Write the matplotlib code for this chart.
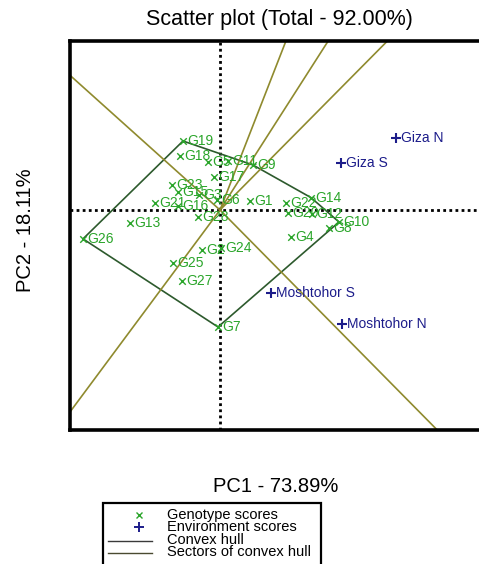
import numpy as np
import matplotlib.pyplot as plt
from matplotlib.patches import Rectangle
from matplotlib.lines import Line2D

plt.rcParams['font.family'] = ['Liberation Sans', 'DejaVu Sans']

# genotype scores (PC1, PC2)
gen_names = ["G1", "G2", "G3", "G4", "G5", "G6", "G7", "G8", "G9", "G10",
             "G11", "G12", "G13", "G14", "G15", "G16", "G17", "G18", "G19", "G20",
             "G21", "G22", "G23", "G24", "G25", "G26", "G27", "G28"]
gen_pc1 = [0.75, -0.45, -0.525, 1.775, -0.3, -0.075, -0.05, 2.725, 0.825, 2.975,
           0.2, 2.3, -2.25, 2.275, -1.05, -1.05, -0.15, -1.0, -0.925, 1.7,
           -1.625, 1.65, -1.2, 0.025, -1.175, -3.425, -0.95, -0.55]
gen_pc2 = [0.24, -1.07, 0.4, -0.72, 1.28, 0.27, -3.12, -0.48, 1.2, -0.32,
           1.31, -0.11, -0.35, 0.33, 0.48, 0.11, 0.88, 1.44, 1.84, -0.08,
           0.19, 0.19, 0.67, -1.01, -1.41, -0.77, -1.89, -0.19]

# environment scores
env_names = ["Giza N", "Giza S", "Moshtohor S", "Moshtohor N"]
env_pc1 = [4.4, 3.025, 1.275, 3.05]
env_pc2 = [1.92, 1.25, -2.21, -3.04]

# genotypes on the convex hull, in order
hull_names = ["G19", "G9", "G14", "G10", "G7", "G26"]

gen_col = "#2aa52a"
env_col = "#1c1c8a"
hull_col = "#2d5a2d"
sect_col = "#8f8a2e"

W, H = 479, 564
fig = plt.figure(figsize=(W / 100, H / 100), dpi=100)
ax = fig.add_axes([70 / W, 1 - 430 / H, 420 / W, 389 / H])
ax.set_xlim(-3.75, 6.75)
ax.set_ylim(-5.867, 4.507)
ax.set_xticks([])
ax.set_yticks([])
for s in ax.spines.values():
    s.set_linewidth(2.6)

# dotted axes through origin
ax.axhline(0, color="k", ls=(0, (1, 1.2)), lw=2, zorder=1)
ax.axvline(0, color="k", ls=(0, (1, 1.2)), lw=2, zorder=1)

# convex hull
idx = [gen_names.index(n) for n in hull_names]
hx = [gen_pc1[i] for i in idx] + [gen_pc1[idx[0]]]
hy = [gen_pc2[i] for i in idx] + [gen_pc2[idx[0]]]
ax.plot(hx, hy, color=hull_col, lw=1.2, zorder=2)

# sector rays: from origin, perpendicular to each hull edge
for k in range(len(idx)):
    a = np.array([hx[k], hy[k]])
    b = np.array([hx[k + 1], hy[k + 1]])
    d = b - a
    foot = a - d * np.dot(a, d) / np.dot(d, d)
    end = foot / np.linalg.norm(foot) * 20
    ax.plot([0, end[0]], [0, end[1]], color=sect_col, lw=1.2, zorder=2)

# genotype markers and labels
ax.scatter(gen_pc1, gen_pc2, marker="x", s=22, color=gen_col, linewidths=1, zorder=3)
for n, x, y in zip(gen_names, gen_pc1, gen_pc2):
    ax.annotate(n, (x, y), xytext=(3, 0), textcoords="offset points",
                va="center", ha="left", fontsize=10, color=gen_col, zorder=4)

# environment markers and labels
ax.scatter(env_pc1, env_pc2, marker="+", s=55, color=env_col, linewidths=1.5, zorder=3)
for n, x, y in zip(env_names, env_pc1, env_pc2):
    ax.annotate(n, (x, y), xytext=(3.5, 0), textcoords="offset points",
                va="center", ha="left", fontsize=10, color=env_col, zorder=4)

fig.text(279 / W, 1 - 20 / H, "Scatter plot (Total - 92.00%)", ha="center", va="center", fontsize=15.5)
fig.text(276 / W, 1 - 487 / H, "PC1 - 73.89%", ha="center", va="center", fontsize=14.5)
fig.text(26 / W, 1 - 230 / H, "PC2 - 18.11%", ha="center", va="center", fontsize=14.5, rotation=90)

# legend box, drawn by hand in pixel positions
def px(x, y):
    return x / W, 1 - y / H

fig.patches.append(Rectangle(px(103, 575), 218 / W, 72 / H, transform=fig.transFigure,
                             fill=False, edgecolor="k", lw=1.6))
leg_labels = ["Genotype scores", "Environment scores", "Convex hull", "Sectors of convex hull"]
rows = [515, 527, 540, 552]
for lab, ry in zip(leg_labels, rows):
    fig.text(*px(167, ry), lab, ha="left", va="center", fontsize=10.5)
fig.lines.append(Line2D([139 / W], [1 - rows[0] / H], marker="x", ms=5, mew=1,
                        color=gen_col, transform=fig.transFigure))
fig.lines.append(Line2D([139 / W], [1 - rows[1] / H], marker="+", ms=7.5, mew=1.4,
                        color=env_col, transform=fig.transFigure))
fig.lines.append(Line2D([108 / W, 152 / W], [1 - (rows[2] + 1) / H] * 2, color="#3a3a3a",
                        lw=1, transform=fig.transFigure))
fig.lines.append(Line2D([108 / W, 152 / W], [1 - (rows[3] + 1) / H] * 2, color="#4a4a30",
                        lw=1, transform=fig.transFigure))

fig.savefig("out.png", dpi=100)
